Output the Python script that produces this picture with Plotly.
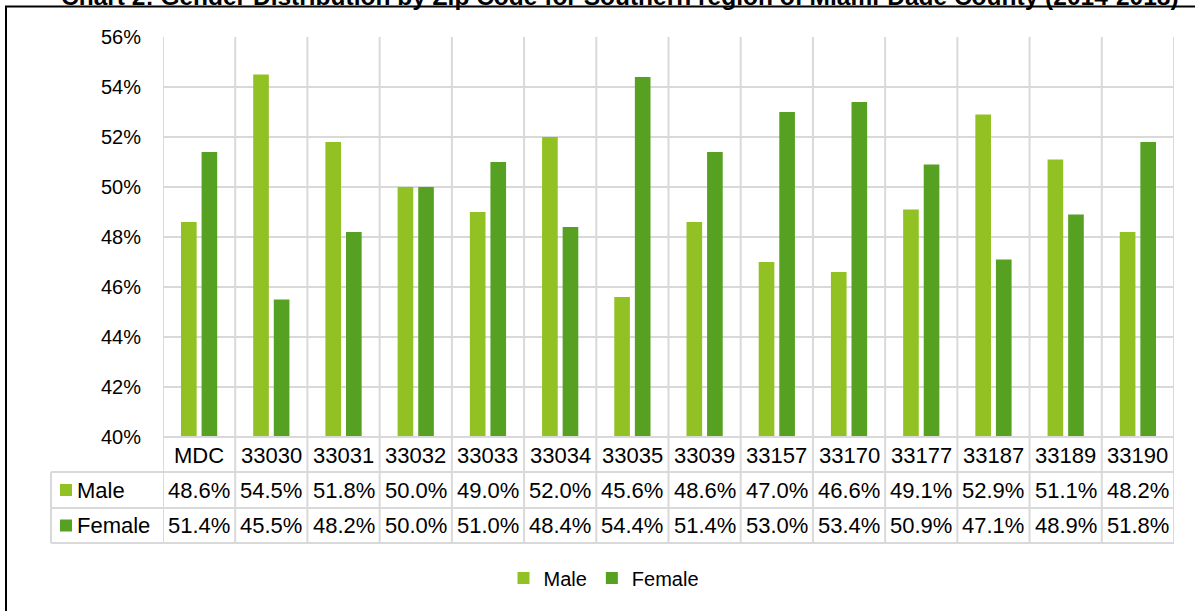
import plotly.graph_objects as go

categories = ["MDC", "33030", "33031", "33032", "33033", "33034", "33035",
              "33039", "33157", "33170", "33177", "33187", "33189", "33190"]
male = [48.6, 54.5, 51.8, 50.0, 49.0, 52.0, 45.6, 48.6, 47.0, 46.6, 49.1, 52.9, 51.1, 48.2]
female = [51.4, 45.5, 48.2, 50.0, 51.0, 48.4, 54.4, 51.4, 53.0, 53.4, 50.9, 47.1, 48.9, 51.8]
series_names = ["Male", "Female"]
y_ticks = [40, 42, 44, 46, 48, 50, 52, 54, 56]
title = "Chart 2: Gender Distribution by Zip Code for Southern region of Miami-Dade County (2014-2018)"

MALE_C = "#92C123"
FEMALE_C = "#56A022"
GRID = "#D9D9D9"
ARIAL = "Liberation Sans, Arial, sans-serif"

W, H = 1195, 611
L, R, T, B = 163, 21, 37, 174
PW, PH = W - L - R, H - T - B


def px_x(px):
    return (px - L) / PW


def px_y(py):
    return (H - B - py) / PH


fig = go.Figure()
fig.add_trace(go.Bar(x=categories, y=[v / 100 for v in male], name=series_names[0],
                     marker=dict(color=MALE_C, line=dict(width=0))))
fig.add_trace(go.Bar(x=categories, y=[v / 100 for v in female], name=series_names[1],
                     marker=dict(color=FEMALE_C, line=dict(width=0))))

shapes = []
annotations = []
n = len(categories)

# vertical separators through plot + table
for i in range(n + 1):
    shapes.append(dict(type="line", xref="x", yref="paper", x0=i - 0.5, x1=i - 0.5,
                       y0=px_y(543), y1=1, line=dict(color=GRID, width=2), layer="below"))
# table horizontal lines
shapes.append(dict(type="line", xref="paper", yref="paper", x0=0, x1=1,
                   y0=0, y1=0, line=dict(color=GRID, width=2)))
for py in (472, 508, 543):
    shapes.append(dict(type="line", xref="paper", yref="paper", x0=px_x(51), x1=1,
                       y0=px_y(py), y1=px_y(py), line=dict(color=GRID, width=2)))
shapes.append(dict(type="line", xref="paper", yref="paper", x0=px_x(51), x1=px_x(51),
                   y0=px_y(472), y1=px_y(543), line=dict(color=GRID, width=2)))

# header texts
for i, c in enumerate(categories):
    annotations.append(dict(x=i, xref="x", y=px_y(455), yref="paper", yanchor="middle",
                            text=c, showarrow=False,
                            font=dict(family=ARIAL, size=22, color="#000")))
rows = [(series_names[0], male, MALE_C, 490), (series_names[1], female, FEMALE_C, 525.5)]
for name, vals, col, cy in rows:
    shapes.append(dict(type="rect", xref="paper", yref="paper", x0=px_x(60), x1=px_x(72),
                       y0=px_y(cy + 6), y1=px_y(cy - 6), fillcolor=col, line=dict(width=0)))
    annotations.append(dict(x=px_x(75), xref="paper", xanchor="left", y=px_y(cy), yref="paper",
                            yanchor="middle", text=name, showarrow=False,
                            font=dict(family=ARIAL, size=22, color="#000")))
    for i, v in enumerate(vals):
        annotations.append(dict(x=i, xref="x", y=px_y(cy), yref="paper", yanchor="middle",
                                text=f"{v:.1f}%", showarrow=False,
                                font=dict(family=ARIAL, size=22, color="#000")))

# outer frame
shapes.append(dict(type="rect", xref="paper", yref="paper", x0=px_x(6), x1=px_x(1200),
                   y0=px_y(620), y1=px_y(6.5), line=dict(color="#000", width=2)))

# title (partially off the top of the image, as in the source)
annotations.append(dict(x=px_x(620), xref="paper", y=px_y(12), yref="paper", yanchor="bottom",
                        text="<b>" + title + "</b>", showarrow=False,
                        font=dict(family=ARIAL, size=24.5, color="#000")))

fig.update_layout(
    width=W, height=H,
    margin=dict(l=L, r=R, t=T, b=B, pad=0),
    paper_bgcolor="white", plot_bgcolor="white",
    barmode="group", bargap=0.43, bargroupgap=0.24,
    showlegend=True,
    legend=dict(orientation="h", x=px_x(604), xanchor="center", y=px_y(578), yanchor="middle",
                font=dict(family=ARIAL, size=20, color="#000"), itemwidth=30,
                traceorder="normal"),
    xaxis=dict(type="category", showticklabels=False, showgrid=False, zeroline=False,
               showline=False, range=[-0.5, n - 0.5]),
    yaxis=dict(range=[0.40, 0.56], tickvals=[t / 100 for t in y_ticks],
               ticktext=[f"{t}%" for t in y_ticks],
               showgrid=True, gridcolor=GRID, gridwidth=2, zeroline=False, showline=False,
               ticks="", ticklabelstandoff=21,
               tickfont=dict(family=ARIAL, size=20, color="#000")),
    shapes=shapes, annotations=annotations,
)

post = """
document.body.style.margin = '0';
document.body.style.overflow = 'hidden';
"""
fig.write_html("out.html", post_script=post, config={"displayModeBar": False})
